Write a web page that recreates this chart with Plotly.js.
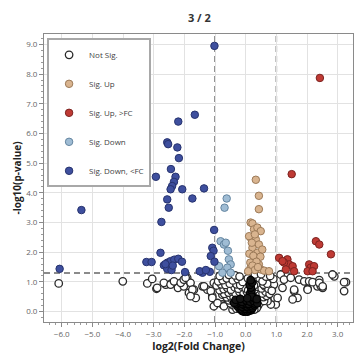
<!DOCTYPE html>
<html><head><meta charset="utf-8">
<script src="https://cdn.plot.ly/plotly-3.0.1.min.js"></script>
<style>html,body{margin:0;padding:0;background:#fff}#chart{width:356px;height:360px}</style>
</head><body><div id="chart"></div>
<script>
const titleText = "3 / 2";
const xTickVals = [-6, -5, -4, -3, -2, -1, 0, 1, 2, 3];
const yTickVals = [0, 1, 2, 3, 4, 5, 6, 7, 8, 9];
const fcThresholds = [-1, 1];
const pThreshold = 1.3;

// Not significant points (open circles)
const notSigX = [-6.1,-4.01,-3.21,-2.91,-2.61,-2.42,-2.21,-2.02,-1.69,-1.85,-1.63,-1.09,-1.04,-0.76,0.98,1.58,1.69,2.02,2.34,2.51,3.21,2.89,3.27,2.40,2.45,
-3.05,-2.89,-2.67,-2.45,-2.34,-2.12,-2.02,-1.91,-1.80,-1.74,-1.80,-1.41,-1.25,
-1.96,-1.36,-1.14,-1.04,-1.09,-0.92,-0.76,-0.71,-0.49,-0.38,-0.16,-0.11,-0.33,-0.22,-0.49,-0.43,0.38,0.60,0.76,0.87,0.49,0.71,0.38,0.82,
1.14,1.25,1.20,0.92,1.47,1.58,1.53,1.74,1.91,2.07,2.18,2.40,2.51,2.02,2.83,3.21,1.04,0.71,
-0.35,-0.42,0.4,0.36,-0.3,0.28,-0.5,-0.38,0.38,0.47,
-0.55,-0.45,-0.34,-0.21,-0.08,0.06,0.3,0.42,0.53,0.6,
-0.62,-0.5,-0.4,-0.27,-0.14,-0.02,0.08,0.27,0.38,0.48,0.58,0.68,-0.7,-0.56,-0.45,-0.33,-0.2,-0.07,0.04,0.24,0.34,0.45,0.55,0.65,0.78,
-0.85,-0.72,-0.6,-0.48,-0.36,-0.24,-0.12,0.0,0.3,0.41,0.52,0.63,0.74,0.85,-0.95,-0.8,-0.66,-0.52,-0.3,-0.18,0.36,0.58,0.7,
-0.9,-0.75,-0.62,-0.42,-0.26,-0.1,0.25,0.45,0.55,0.66,0.9,-0.85,-0.55,-0.35,-0.2,0.3,0.5,0.8,
0.07,0.27,0.08];
const notSigY = [0.95,1.02,0.95,0.77,0.91,0.95,0.80,0.85,0.74,0.63,0.46,0.52,0.18,0.24,0.24,0.69,0.46,0.77,0.85,0.80,0.69,1.19,0.99,1.06,0.86,
1.10,0.80,0.97,0.91,1.02,0.97,1.08,1.14,0.97,0.74,0.52,0.85,0.74,
1.14,0.85,0.69,0.97,0.46,0.29,0.57,0.18,1.19,1.02,0.97,0.74,0.63,0.41,0.35,0.07,1.08,0.97,1.14,0.85,0.63,0.41,0.18,0.24,
1.25,1.08,0.80,0.91,1.14,0.74,0.41,1.08,1.02,1.02,0.99,0.97,0.85,0.74,1.25,0.99,0.46,0.35,
0.18,0.22,0.2,0.12,0.1,0.07,0.28,0.32,0.3,0.3,
0.38,0.42,0.44,0.42,0.44,0.46,0.42,0.39,0.43,0.36,
0.48,0.52,0.5,0.55,0.5,0.53,0.56,0.57,0.5,0.54,0.49,0.53,0.6,0.64,0.68,0.62,0.66,0.63,0.67,0.68,0.63,0.66,0.61,0.67,0.6,
0.72,0.76,0.8,0.74,0.82,0.77,0.84,0.78,0.75,0.83,0.78,0.85,0.77,0.7,0.88,0.92,0.9,0.94,0.92,0.9,0.95,0.91,0.94,
1.02,1.06,1.12,1.05,1.1,1.0,1.08,1.12,1.02,1.18,1.1,1.2,1.24,1.22,1.18,1.25,1.26,1.2,
1.12,0.88,0.72];

// Densely overlapping not-significant points at the base of the volcano
const notSigCoreX = [-0.12,-0.06,0,0.06,0.12,0.18,
-0.2,-0.13,-0.06,0.01,0.08,0.15,0.22,
-0.27,-0.19,-0.11,-0.03,0.05,0.13,0.21,0.29,
-0.3,-0.2,-0.1,0.0,0.1,0.2,0.3,
-0.25,-0.12,0.02,0.14,0.26,
0.16,0.2,0.15,0.19,0.17,0.13,0.21,0.16,0.19,
-0.38,0.38,-0.33,0.36,-0.18,0.05];
const notSigCoreY = [0.02,0.0,0.01,0.0,0.03,0.05,
0.1,0.08,0.12,0.09,0.13,0.1,0.12,
0.18,0.2,0.16,0.21,0.17,0.2,0.18,0.21,
0.27,0.29,0.25,0.28,0.26,0.3,0.27,
0.35,0.33,0.37,0.34,0.36,
0.45,0.55,0.63,0.72,0.81,0.9,0.98,1.06,0.5,
0.3,0.28,0.4,0.42,0.43,0.45];

const sigUpX = [0.33,0.43,0.43,0.16,0.22,0.27,0.38,0.49,0.16,0.33,0.43,0.22,0.38,0.54,0.27,0.43,0.16,0.49,0.11,0.30,0.20,0.12,0.25,0.48,0.15,0.35,0.22,0.60,0.76,0.30,0.08,0.40];
const sigUpY = [4.44,3.90,3.45,3.0,2.97,2.77,2.83,2.71,2.49,2.43,2.26,2.15,1.98,2.09,1.76,1.59,1.48,1.42,2.54,2.60,2.32,1.95,1.88,1.85,1.65,1.68,1.55,1.38,1.36,1.40,1.36,1.50];

const upFcX = [2.42,1.50,2.29,2.40,2.78,1.09,1.36,1.42,1.25,1.53,1.31,1.58,2.07,2.12,2.23,2.02,2.18,1.20];
const upFcY = [7.87,4.63,2.37,2.26,1.93,1.81,1.76,1.59,1.65,1.53,1.42,1.36,1.59,1.48,1.53,1.36,1.36,1.70];

const sigDownX = [-0.62,-0.69,-0.82,-0.71,-0.65,-0.55,-0.49,-0.60,-0.87,-0.58,-0.49,-0.76];
const sigDownY = [3.81,3.50,2.37,2.26,2.32,1.76,1.59,1.48,1.53,2.05,1.31,1.31];

const downFcX = [-1.02,-1.66,-2.20,-2.56,-2.53,-2.23,-2.18,-2.44,-2.93,-2.29,-2.34,-2.40,-2.45,-2.07,-1.36,-2.56,-1.74,-2.51,-5.36,-2.75,-1.03,-2.78,-1.09,-1.05,-1.14,-1.02,-3.24,-3.07,-2.67,-2.55,-2.45,-2.33,-2.20,-2.08,-2.56,-2.42,-1.98,-1.41,-1.17,-6.07,-2.62,-2.38,-1.50,-1.30];
const downFcY = [8.95,6.63,6.40,5.70,5.64,5.53,5.17,4.80,4.54,4.54,4.37,4.23,4.12,4.12,4.15,3.78,3.81,3.50,3.42,3.02,2.75,1.98,2.15,2.05,1.87,1.68,1.67,1.67,1.56,1.65,1.70,1.75,1.78,1.68,1.44,1.40,1.33,1.31,1.34,1.44,1.60,1.55,1.36,1.40];

function tr(name, x, y, fill, edge, lw, rank) {
  return {type: 'scatter', mode: 'markers', name: name, x: x, y: y, legendrank: rank,
    marker: {size: 7.5, color: fill, line: {color: edge, width: lw}}};
}
const core = tr('Not Sig.', notSigCoreX, notSigCoreY, '#151515', '#000000', 1.2, 1);
core.showlegend = false;
core.legendgroup = 'ns';
const ns = tr('Not Sig.', notSigX, notSigY, '#ffffff', '#2a2a2a', 1.3, 1);
ns.legendgroup = 'ns';
const data = [
  ns, core,
  tr('Sig. Up', sigUpX, sigUpY, '#d9b48f', '#9c7a58', 1, 2),
  tr('Sig. Up, >FC', upFcX, upFcY, '#bf3a34', '#7c2320', 1, 3),
  tr('Sig. Down', sigDownX, sigDownY, '#9fbcd4', '#6485a0', 1, 4),
  tr('Sig. Down, <FC', downFcX, downFcY, '#3e4f9e', '#27336e', 1, 5)
];

const shapes = fcThresholds.map(v => ({type: 'line', xref: 'x', yref: 'paper', x0: v, x1: v, y0: 0, y1: 1,
  line: {color: '#666666', width: 1.5, dash: '6px,4px'}, layer: 'below'}));
shapes.push({type: 'line', xref: 'paper', yref: 'y', x0: 0, x1: 1, y0: pThreshold, y1: pThreshold,
  line: {color: '#666666', width: 1.5, dash: '6px,4px'}, layer: 'below'});

const axisCommon = {showgrid: true, gridcolor: '#e2e2e2', gridwidth: 1, zeroline: false,
  showline: true, mirror: true, linecolor: '#8a8a8a', linewidth: 1,
  ticks: 'outside', ticklen: 4, tickcolor: '#8a8a8a', tickformat: '.1f',
  tickfont: {family: 'Open Sans, sans-serif', size: 8, color: '#666'},
  minor: {ticks: 'outside', ticklen: 2, tickcolor: '#9a9a9a', dtick: 0.2, showgrid: false}};

const layout = {
  width: 356, height: 360,
  margin: {l: 44, r: 3, t: 34, b: 38},
  paper_bgcolor: '#ffffff', plot_bgcolor: '#ffffff',
  font: {family: 'Open Sans, sans-serif', color: '#333'},
  title: {text: '<b>' + titleText + '</b>', x: 0.56, xanchor: 'center', y: 0.95, yanchor: 'middle',
    font: {size: 11, color: '#333'}},
  xaxis: Object.assign({}, axisCommon, {range: [-6.58, 3.5], tickvals: xTickVals,
    title: {text: '<b>log2(Fold Change)</b>', font: {size: 10.5, color: '#222'}, standoff: 5}}),
  yaxis: Object.assign({}, axisCommon, {range: [-0.35, 9.35], tickvals: yTickVals,
    title: {text: '<b>-log10(p-value)</b>', font: {size: 10, color: '#222'}, standoff: 2}}),
  shapes: shapes,
  showlegend: true,
  legend: {x: 0.01, y: 0.985, xanchor: 'left', yanchor: 'top', bgcolor: '#ffffff',
    bordercolor: '#a8a8a8', borderwidth: 2, font: {size: 8, color: '#444'}, itemwidth: 30}
};
Plotly.newPlot('chart', data, layout, {displayModeBar: false, staticPlot: true});
</script></body></html>
